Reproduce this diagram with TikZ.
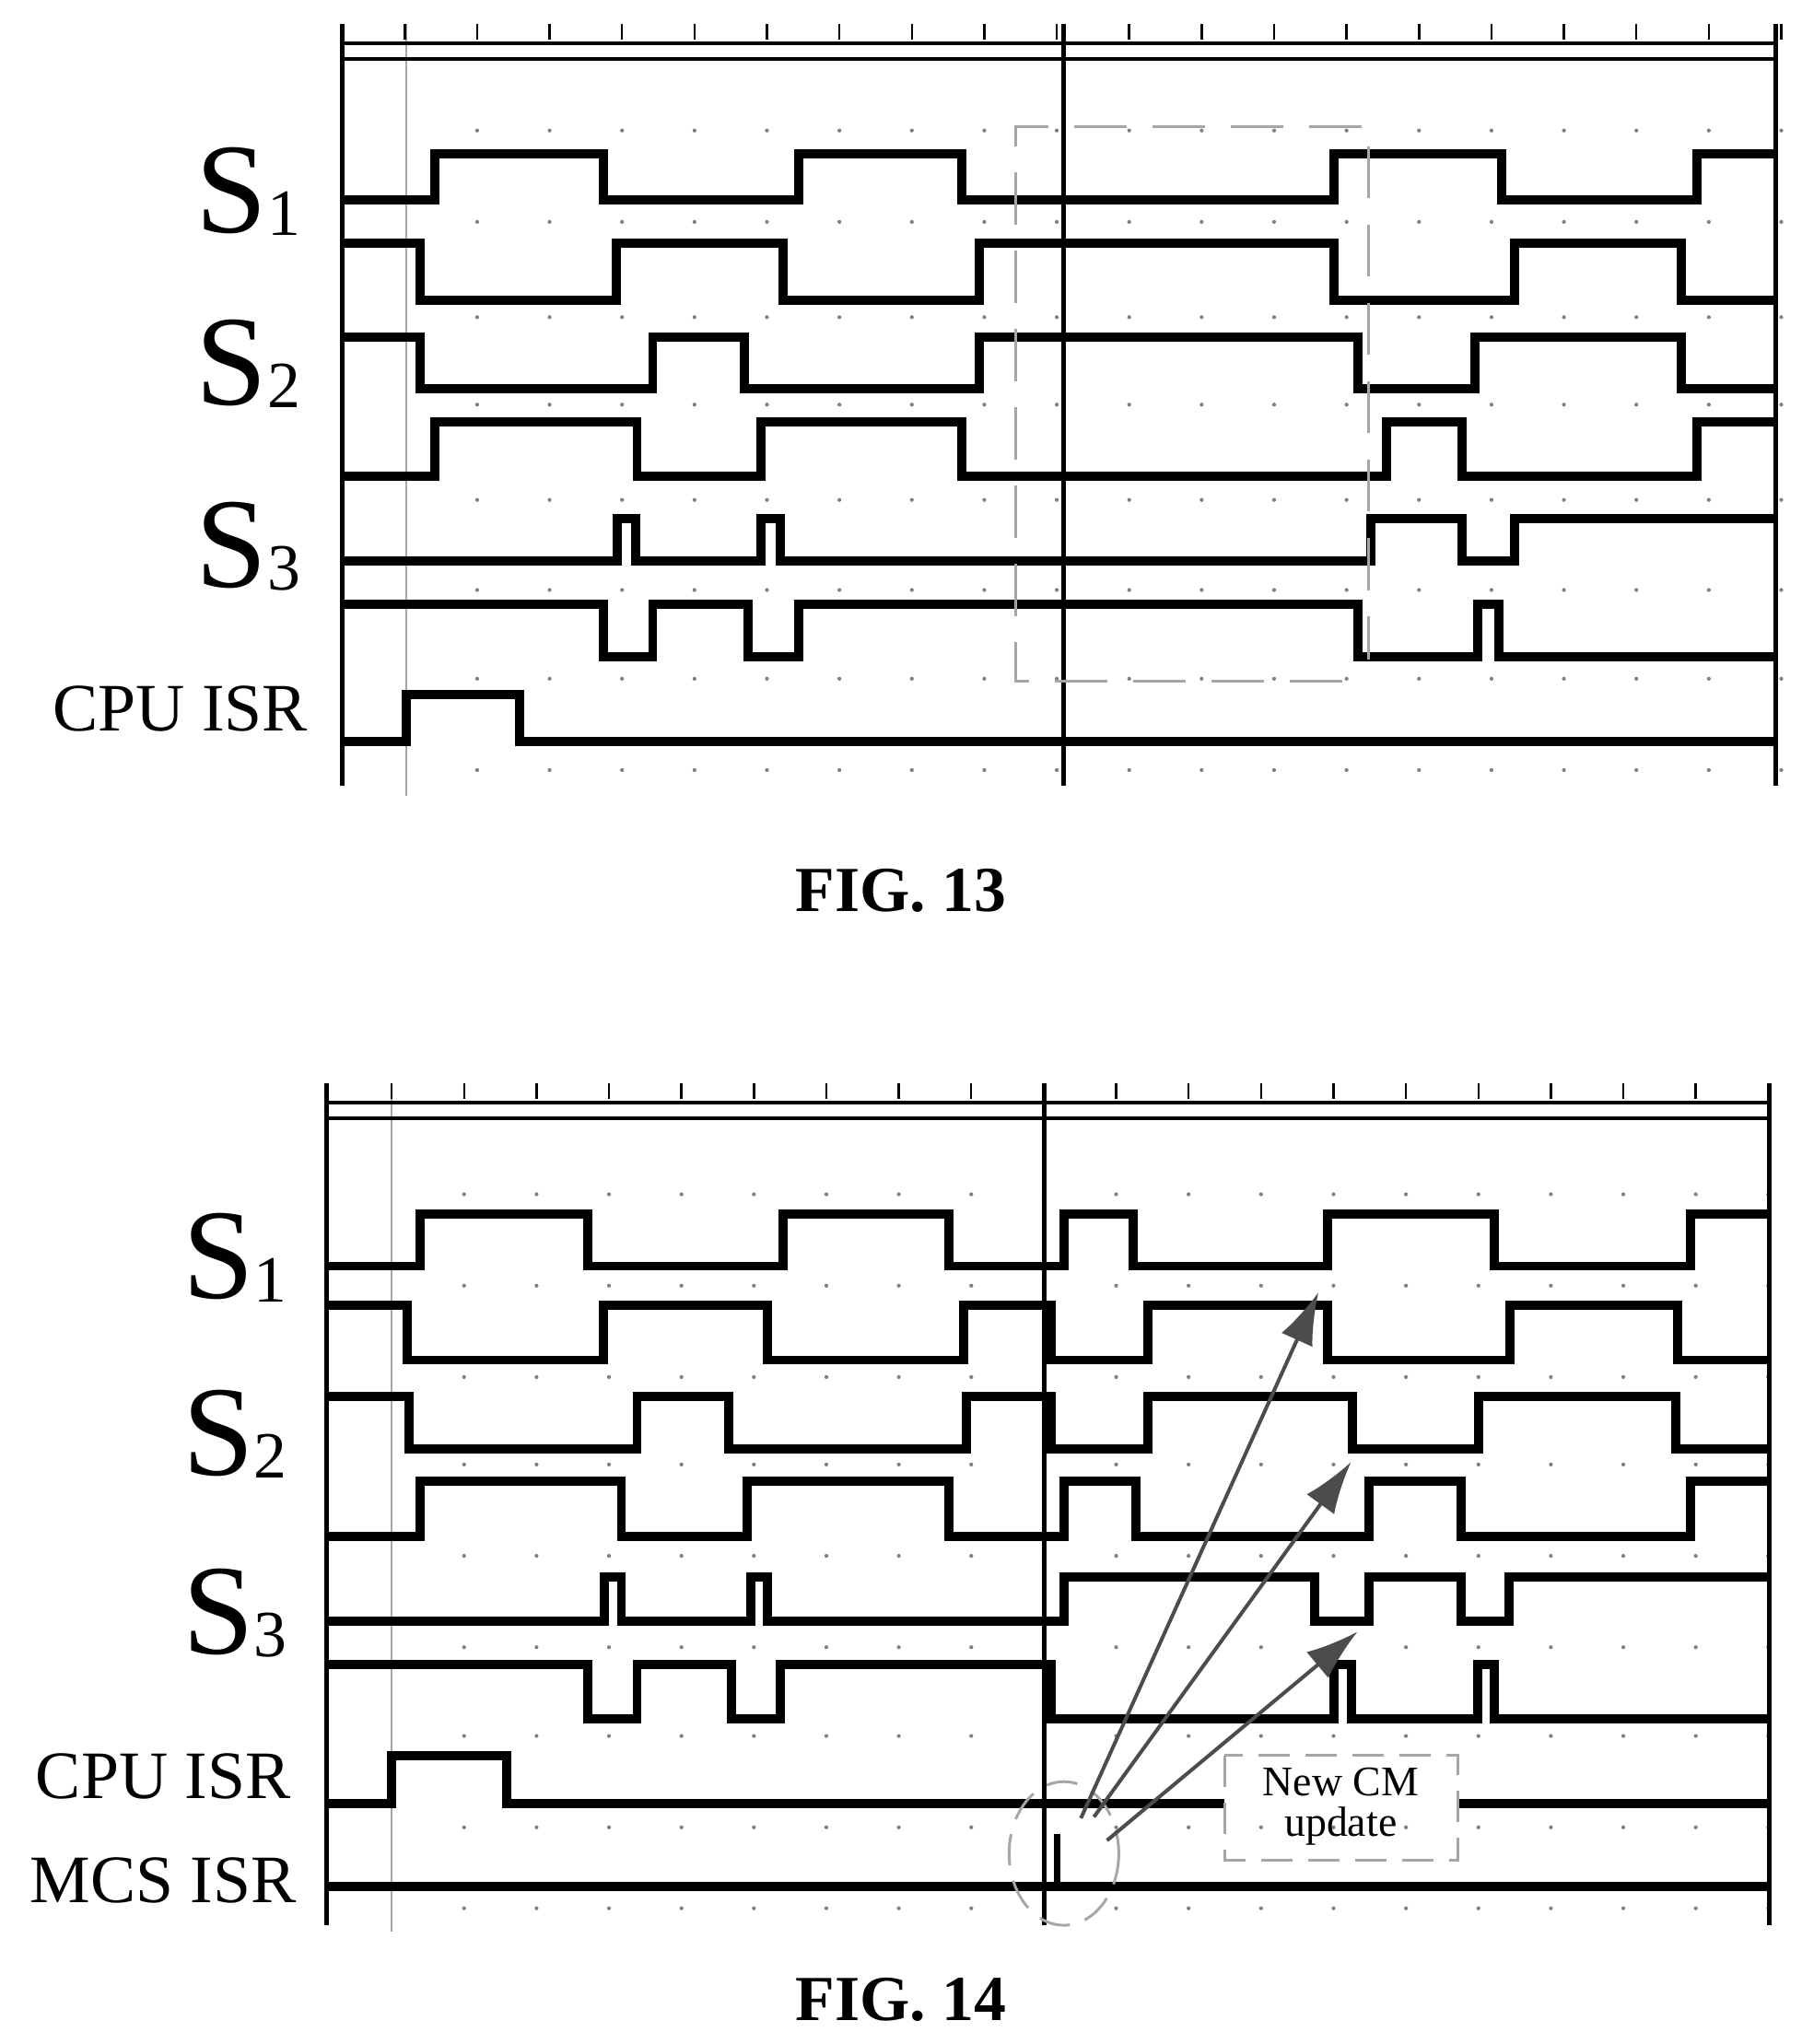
\documentclass[tikz,border=0pt]{standalone}
\usepackage{fontspec}
\setmainfont{Liberation Serif}
\usetikzlibrary{arrows.meta}
\begin{document}
\begin{tikzpicture}[x=0.5mm,y=-0.5mm,
  sig/.style={line width=10pt,line join=miter,black},
  frame/.style={line width=5pt,black},
  thin/.style={line width=2pt,gray!70},
  dsh/.style={line width=3pt,gray!70,dash pattern=on 20mm off 10mm},
  slab/.style={font=\fontsize{140}{140}\selectfont,anchor=base},
  lab/.style={font=\fontsize{74}{74}\selectfont,anchor=base},
  fig/.style={font=\fontsize{70}{70}\selectfont\bfseries,anchor=base},
  arr/.style={line width=4pt,gray!60!black,-{Latex[length=20mm,width=13mm]}}]
\useasboundingbox (0,0) rectangle (1380,1566);
\newcommand{\Sn}[1]{S\raisebox{-0.05ex}{\fontsize{72}{72}\selectfont #1}}
% ===== FIG 13 =====
\foreach \y in {100,170,243,310,383,452,520,590}
  \foreach \i in {1,...,19} \fill[gray] (310+\i*55.5,\y) circle (1.5);
\draw[frame] (262,18) -- (262,602);
\draw[frame] (1360,18) -- (1360,602);
\draw[frame] (815,18) -- (815,602);
\draw[thin] (311,18) -- (311,610);
\draw[line width=4pt] (262,33) -- (1360,33);
\draw[line width=4pt] (262,45) -- (1360,45);
\foreach \i in {0,...,19} \draw[line width=2.5pt] (310+\i*55.5,18) -- (310+\i*55.5,30);
\draw[sig] (262,153) -| (333,118) -| (462,153) -| (612,118) -| (737,153) -| (1022,118) -| (1150,153) -| (1300,118) -- (1360,118);
\draw[sig] (262,186) -| (322,230) -| (472,186) -| (600,230) -| (750,186) -| (1022,230) -| (1160,186) -| (1288,230) -- (1360,230);
\draw[sig] (262,258) -| (322,298) -| (500,258) -| (570,298) -| (750,258) -| (1040,298) -| (1130,258) -| (1288,298) -- (1360,298);
\draw[sig] (262,365) -| (333,323) -| (488,365) -| (583,323) -| (737,365) -| (1062,323) -| (1120,365) -| (1300,323) -- (1360,323);
\draw[sig] (262,430) -| (473,397) -| (487,430) -| (583,397) -| (598,430) -| (1050,397) -| (1120,430) -| (1160,397) -- (1360,397);
\draw[sig] (262,463) -| (462,503) -| (500,463) -| (573,503) -| (612,463) -| (1040,503) -| (1132,463) -| (1148,503) -- (1360,503);
\draw[sig] (262,568) -| (311,532) -| (398,568) -- (1360,568);
\draw[dsh] (1028,522) -- (778,522) -- (778,97) -- (1048,97) -- (1048,505);
\node[slab] (s1a) at (190,178) {\Sn{1}};
\node[slab] (s2a) at (190,310) {\Sn{2}};
\node[slab] (s3a) at (190,450) {\Sn{3}};
\node[lab] (cpua) at (138,560) {CPU ISR};
\node[fig] (f13) at (690,698) {FIG. 13};
% ===== FIG 14 =====
\foreach \y in {915,985,1055,1122,1192,1262,1330,1400,1462}
  \foreach \i in {1,...,19} \fill[gray] (300+\i*55.5,\y) circle (1.5);
\draw[frame] (250,830) -- (250,1475);
\draw[frame] (1355,830) -- (1355,1475);
\draw[frame] (800,830) -- (800,1475);
\draw[thin] (300,830) -- (300,1480);
\draw[line width=4pt] (250,845) -- (1355,845);
\draw[line width=4pt] (250,857) -- (1355,857);
\foreach \i in {0,...,19} \draw[line width=2.5pt] (300+\i*55.5,830) -- (300+\i*55.5,842);
\draw[sig] (250,970) -| (322,930) -| (450,970) -| (600,930) -| (727,970) -| (815,930) -| (868,970) -| (1017,930) -| (1145,970) -| (1295,930) -- (1355,930);
\draw[sig] (250,1000) -| (312,1042) -| (462,1000) -| (588,1042) -| (738,1000) -| (805,1042) -| (879,1000) -| (1017,1042) -| (1157,1000) -| (1285,1042) -- (1355,1042);
\draw[sig] (250,1070) -| (313,1110) -| (488,1070) -| (558,1110) -| (740,1070) -| (805,1110) -| (879,1070) -| (1036,1110) -| (1133,1070) -| (1284,1110) -- (1355,1110);
\draw[sig] (250,1177) -| (322,1135) -| (476,1177) -| (572,1135) -| (727,1177) -| (815,1135) -| (870,1177) -| (1049,1135) -| (1119,1177) -| (1295,1135) -- (1355,1135);
\draw[sig] (250,1242) -| (463,1208) -| (476,1242) -| (575,1208) -| (588,1242) -| (815,1208) -| (1007,1242) -| (1049,1208) -| (1119,1242) -| (1156,1208) -- (1355,1208);
\draw[sig] (250,1275) -| (450,1317) -| (488,1275) -| (560,1317) -| (598,1275) -| (805,1317) -| (1022,1275) -| (1035,1317) -| (1132,1275) -| (1145,1317) -- (1355,1317);
\draw[sig] (250,1382) -| (300,1345) -| (388,1382) -- (938,1382);
\draw[sig] (1117,1382) -- (1355,1382);
\draw[sig] (250,1445) -- (1355,1445);
\draw[line width=7pt] (810,1405) -- (810,1445);
\draw[dsh,dash pattern=on 12mm off 6mm] (815,1420) ellipse (42 and 55);
\draw[dsh,dash pattern=on 12mm off 6mm] (938,1345) rectangle (1117,1425);
\node[font=\fontsize{46}{46}\selectfont] (cm) at (1027,1385) {\begin{tabular}{c}New CM\\[-2pt]update\end{tabular}};
\coordinate (o1) at (828,1393);
\coordinate (o2) at (838,1392);
\coordinate (o3) at (848,1410);
\coordinate (t1) at (1010,990);
\coordinate (t2) at (1035,1120);
\coordinate (t3) at (1040,1250);
\draw[arr] (o1) -- (t1);
\draw[arr] (o2) -- (t2);
\draw[arr] (o3) -- (t3);
\node[slab] (s1b) at (180,995) {\Sn{1}};
\node[slab] (s2b) at (180,1130) {\Sn{2}};
\node[slab] (s3b) at (180,1267) {\Sn{3}};
\node[lab] (cpub) at (125,1378) {CPU ISR};
\node[lab] (mcs) at (125,1458) {MCS ISR};
\node[fig] (f14) at (690,1548) {FIG. 14};
\end{tikzpicture}
\end{document}
